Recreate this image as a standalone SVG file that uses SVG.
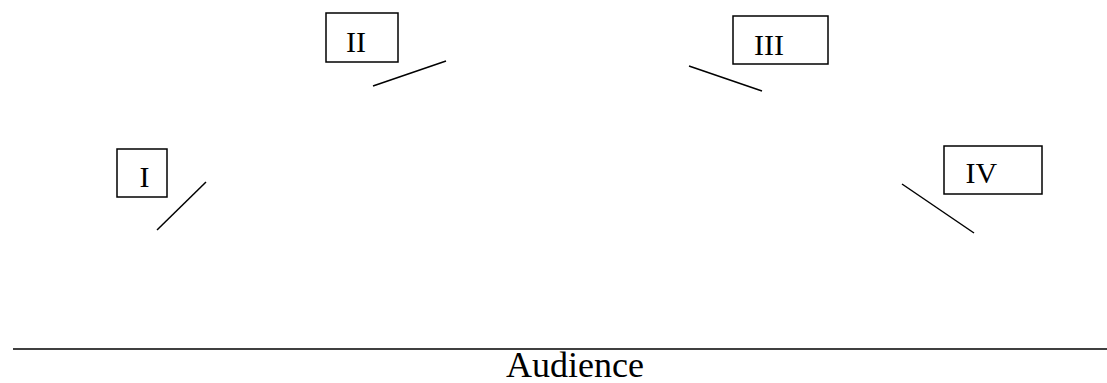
<svg xmlns="http://www.w3.org/2000/svg" width="1107" height="383" viewBox="0 0 1107 383">
<style>
.box{fill:#fff;stroke:#000;stroke-width:1.5}
.lbl{font-family:"Liberation Serif","Times New Roman",serif;font-size:30px;fill:#000}
.ln{stroke:#000;stroke-width:1.5;fill:none}
</style>
<rect width="1107" height="383" fill="#fff"/>
<g id="node-I"><rect class="box" x="117" y="149" width="50" height="48"/><text class="lbl" x="139.5" y="187">I</text></g>
<g id="node-II"><rect class="box" x="326" y="13" width="72" height="49"/><text class="lbl" x="346" y="52">II</text></g>
<g id="node-III"><rect class="box" x="733" y="16" width="95" height="48"/><text class="lbl" x="754" y="55">III</text></g>
<g id="node-IV"><rect class="box" x="944" y="146" width="98" height="48"/><text class="lbl" x="965.5" y="183">IV</text></g>
<g id="connectors">
<line class="ln" x1="206" y1="182" x2="157" y2="230"/>
<line class="ln" x1="373" y1="86" x2="446" y2="61"/>
<line class="ln" x1="689" y1="66" x2="762" y2="91"/>
<line class="ln" x1="902" y1="184" x2="974" y2="233"/>
<line class="ln" x1="13" y1="349" x2="1107" y2="349"/>
</g>
<g id="audience"><text x="506" y="377" style="font-family:'Liberation Serif','Times New Roman',serif;font-size:36px;fill:#000">Audience</text></g>
</svg>
